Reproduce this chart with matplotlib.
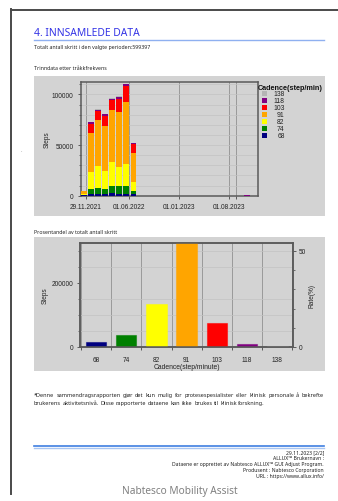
import matplotlib
matplotlib.use("Agg")
import matplotlib.pyplot as plt
import matplotlib.dates as mdates
from matplotlib.patches import Rectangle
from matplotlib.lines import Line2D
from matplotlib.ticker import MultipleLocator, FixedLocator, NullFormatter
import numpy as np
import datetime as dt

# ---------------- data ----------------
cadences = ["68", "74", "82", "91", "103", "118", "138"]
colors = ["#000080", "#008000", "#ffff00", "#ffa500", "#ff0000", "#800080", "#b4b4b4"]

months = ["2021-11-19", "2021-12-19", "2022-01-19", "2022-02-19", "2022-03-19",
          "2022-04-19", "2022-05-19", "2022-06-19", "2023-10-16"]
c68 = [300, 1700, 1700, 1700, 2600, 2000, 2000, 1800, 0]
c74 = [500, 5000, 6000, 4900, 7300, 7200, 7200, 2800, 0]
c82 = [1000, 16500, 22100, 18100, 23400, 19200, 22200, 9400, 0]
c91 = [2500, 38300, 44600, 43900, 50900, 54400, 61300, 28500, 0]
c103 = [700, 9600, 9100, 9900, 10200, 12900, 15500, 8200, 0]
c118 = [100, 1500, 1600, 2000, 1600, 2000, 1800, 1300, 500]
c138 = [0, 300, 400, 400, 500, 500, 600, 300, 0]

date_ticks = ["2021-11-29", "2022-06-01", "2023-01-01", "2023-08-01", "2023-09-01"]
date_labels = ["29.11.2021", "01.06.2022", "01.01.2023", "01.08.2023", ""]

totals = [14500, 38500, 132700, 323500, 75800, 10400, 4000]
total_steps = 599397

# ---------------- figure ----------------
W, H = 338, 502
fig = plt.figure(figsize=(W / 100, H / 100), dpi=100)
fig.patch.set_facecolor("white")

def fx(px):
    return px / W

def fy(py):
    return 1 - py / H

def add_ax(l, t, r, b):
    return fig.add_axes([fx(l), fy(b), (r - l) / W, (b - t) / H])

PAGE = "Noto Sans"
CH = "Liberation Sans"
PANEL = "#d3d3d3"
SPINE = "#5a5a5a"
SMALL = 3.75

# page frame
fig.add_artist(Line2D([fx(11), fx(11)], [fy(10), fy(495)], color="#4a4a4a", lw=1.4, transform=fig.transFigure))
fig.add_artist(Line2D([fx(11), fx(338)], [fy(10.5), fy(10.5)], color="#4a4a4a", lw=1.4, transform=fig.transFigure))
fig.text(fx(21), fy(150.5), ".", fontsize=4, color="#888888", ha="center", va="center", family=PAGE)

# header
fig.text(fx(34), fy(33.5), "4. INNSAMLEDE DATA", fontsize=7.45, color="#3535e6", family=PAGE, va="center", ha="left")
fig.add_artist(Line2D([fx(34), fx(324)], [fy(41.3), fy(41.3)], color="#8fb0f0", lw=1.0, transform=fig.transFigure))
fig.text(fx(34), fy(47.8), "Totalt antall skritt i den valgte perioden:" + str(total_steps), fontsize=SMALL,
         color="#222222", family=PAGE, va="center")
fig.text(fx(34), fy(68.5), "Trinndata etter tråkkfrekvens", fontsize=SMALL, color="#222222", family=PAGE, va="center")
fig.text(fx(34), fy(232.5), "Prosentandel av totalt antall skritt", fontsize=SMALL, color="#222222", family=PAGE, va="center")

# panels (behind the axes)
fig.patches.append(Rectangle((fx(34), fy(217.3)), (324.7 - 34) / W, (217.3 - 77.3) / H,
                             transform=fig.transFigure, facecolor=PANEL, edgecolor="none", zorder=-10))
fig.patches.append(Rectangle((fx(34), fy(372)), (324.7 - 34) / W, (372 - 238.3) / H,
                             transform=fig.transFigure, facecolor=PANEL, edgecolor="none", zorder=-10))

# ---------------- chart 1: stacked monthly bars ----------------
ax1 = add_ax(80.7, 83.3, 257.7, 196.7)
ax1.set_facecolor(PANEL)
xd = [mdates.date2num(dt.date.fromisoformat(m)) for m in months]
series = [c68, c74, c82, c91, c103, c118, c138]
bottom = np.zeros(len(months))
for vals, col in zip(series, colors):
    ax1.bar(xd, vals, width=25, bottom=bottom, color=col, edgecolor="none", zorder=3)
    bottom += np.array(vals)

ax1.set_xlim(mdates.date2num(dt.date(2021, 11, 6)), mdates.date2num(dt.date(2023, 12, 1)))
ax1.set_ylim(0, 112000)
tick_nums = [mdates.date2num(dt.date.fromisoformat(d)) for d in date_ticks]
ax1.xaxis.set_major_locator(FixedLocator(tick_nums))
ax1.set_xticklabels(date_labels)
ax1.yaxis.set_major_locator(FixedLocator([0, 50000, 100000]))
ax1.set_yticklabels(["0", "50000", "100000"])
ax1.yaxis.set_minor_locator(MultipleLocator(10000))
ax1.grid(which="minor", axis="y", color="#c2c2c2", lw=0.5, zorder=1)
ax1.grid(which="major", axis="y", color="#c2c2c2", lw=0.5, zorder=1)
ax1.grid(which="major", axis="x", color="#9a9a9a", lw=0.7, zorder=1)
ax1.set_axisbelow(True)
ax1.tick_params(axis="both", which="major", length=2.4, width=0.7, color=SPINE, labelsize=4.7,
                labelcolor="#222222", pad=2.6)
ax1.tick_params(axis="y", which="minor", length=1.6, width=0.6, color=SPINE)
for lab in ax1.get_xticklabels() + ax1.get_yticklabels():
    lab.set_family(CH)
for s in ax1.spines.values():
    s.set_color(SPINE)
    s.set_linewidth(1.1)
fig.text(fx(47), fy(140), "Steps", rotation=90, fontsize=4.7, family=CH, color="#222222", ha="center", va="center")

# legend (manual)
fig.text(fx(257.5), fy(88.5), "Cadence(step/min)", fontsize=5.2, weight="bold", family=CH, color="#111111",
         ha="left", va="center")
for i, idx in enumerate(range(len(cadences) - 1, -1, -1)):
    yc = 94.9 + i * 6.95
    fig.patches.append(Rectangle((fx(262.3), fy(yc + 2.5)), 5 / W, 5 / H, transform=fig.transFigure,
                                 facecolor=colors[idx], edgecolor="none"))
    fig.text(fx(284.5), fy(yc), cadences[idx], fontsize=4.9, family=CH, color="#222222", ha="right", va="center")

# ---------------- chart 2: totals per cadence ----------------
ax2 = add_ax(80, 244.3, 293.3, 348)
ax2.set_facecolor(PANEL)
xpos = np.arange(len(cadences))
ax2.bar(xpos, totals, width=0.68, color=colors, edgecolor=[c + "88" for c in colors], lw=0.8, zorder=3)
ax2.set_xlim(-0.53, len(cadences) - 0.47)
ymax = max(totals)
ax2.set_ylim(0, ymax)
ax2.set_xticks(xpos)
ax2.set_xticklabels(cadences)
ax2.set_xticks(np.arange(-0.5, len(cadences)), minor=True)
ax2.xaxis.set_minor_formatter(NullFormatter())
ax2.yaxis.set_major_locator(FixedLocator([0, 200000]))
ax2.set_yticklabels(["0", "200000"])
ax2.yaxis.set_minor_locator(MultipleLocator(50000))
ax2.grid(which="minor", axis="y", color="#c2c2c2", lw=0.5, zorder=1)
ax2.grid(which="minor", axis="x", color="#9a9a9a", lw=0.7, zorder=1)
ax2.set_axisbelow(True)
ax2.tick_params(axis="x", which="major", length=0, labelsize=4.7, labelcolor="#222222", pad=6.2)
ax2.tick_params(axis="x", which="minor", length=2.4, width=0.7, color=SPINE)
ax2.tick_params(axis="y", which="major", length=2.4, width=0.7, color=SPINE, labelsize=4.7,
                labelcolor="#222222", pad=2.6)
ax2.tick_params(axis="y", which="minor", length=1.6, width=0.6, color=SPINE)
for lab in ax2.get_xticklabels() + ax2.get_yticklabels():
    lab.set_family(CH)
for s in ax2.spines.values():
    s.set_color(SPINE)
    s.set_linewidth(1.1)

ax3 = ax2.twinx()
ax3.set_ylim(0, ymax / total_steps * 100)
ax3.yaxis.set_major_locator(FixedLocator([0, 50]))
ax3.set_yticklabels(["0", "50"])
ax3.yaxis.set_minor_locator(MultipleLocator(10))
ax3.tick_params(axis="y", which="major", length=2.4, width=0.7, color=SPINE, labelsize=4.7,
                labelcolor="#222222", pad=1.2)
ax3.tick_params(axis="y", which="minor", length=1.6, width=0.6, color=SPINE)
for lab in ax3.get_yticklabels():
    lab.set_family(CH)
for s in ax3.spines.values():
    s.set_color(SPINE)
    s.set_linewidth(1.1)

fig.text(fx(45.5), fy(296), "Steps", rotation=90, fontsize=4.7, family=CH, color="#222222", ha="center", va="center")
fig.text(fx(312), fy(296), "Rate(%)", rotation=90, fontsize=4.7, family=CH, color="#222222", ha="center", va="center")
fig.text(fx(186.5), fy(367.2), "Cadence(step/minute)", fontsize=4.9, family=CH, color="#222222", ha="center", va="center")

# ---------------- disclaimer (justified) ----------------
line1 = ("*Denne sammendragsrapporten gjør det kun mulig for protesespesialister eller klinisk "
         "personale å bekrefte").split()
line2 = ("brukerens aktivitetsnivå. Disse rapporterte dataene kan ikke brukes til klinisk "
         "forskning.").split()
renderer = fig.canvas.get_renderer()

def justified(words, y, x0, x1, fs=4.0):
    arts = [fig.text(0, fy(y), w, fontsize=fs, family=PAGE, color="#222222", va="center", ha="left")
            for w in words]
    widths = [a.get_window_extent(renderer).width for a in arts]
    gap = ((x1 - x0) - sum(widths)) / (len(words) - 1)
    x = x0
    for a, w in zip(arts, widths):
        a.set_x(fx(x))
        x += w + gap

justified(line1, 395.8, 34, 323.5)
justified(line2, 403.6, 34, 265)

# ---------------- footer ----------------
fig.add_artist(Line2D([fx(34), fx(324)], [fy(447.2), fy(447.2)], color="#3f7fe0", lw=1.2, transform=fig.transFigure))
fig.add_artist(Line2D([fx(34), fx(324)], [fy(448.6), fy(448.6)], color="#a9c6f2", lw=1.0, transform=fig.transFigure))
footer = ["29.11.2023 [2/2]",
          "ALLUX\u2122 Brukernavn :",
          "Dataene er opprettet av Nabtesco ALLUX\u2122 GUI Adjust Program.",
          "Produsent : Nabtesco Corporation",
          "URL : https://www.allux.info/"]
for i, t in enumerate(footer):
    fig.text(fx(324), fy(452.8 + i * 6.0), t, fontsize=3.67, family=PAGE, color="#222222", ha="right", va="center")
fig.text(fx(180), fy(491.8), "Nabtesco Mobility Assist", fontsize=7.3, family=PAGE, color="#808080",
         ha="center", va="center")

fig.savefig("out.png", dpi=100, facecolor="white")
